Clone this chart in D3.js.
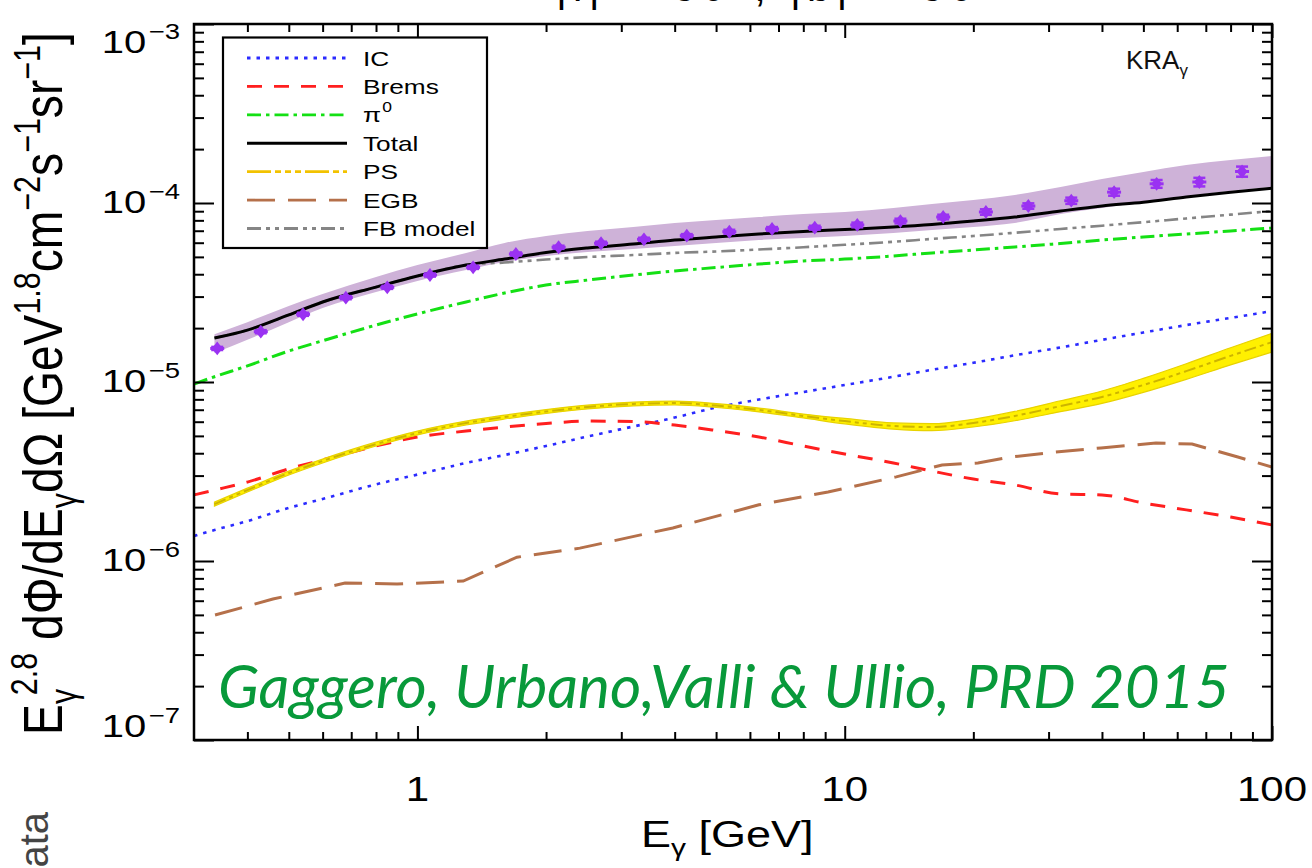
<!DOCTYPE html>
<html><head><meta charset="utf-8">
<script src="https://cdn.jsdelivr.net/npm/d3@7"></script>
<style>body{margin:0;background:#fff;} svg{display:block;}</style>
</head><body>
<script>
// ---------------- data ----------------
const energyGrid = [0.3, 0.335, 0.4, 0.5, 0.6, 0.8, 1, 1.3, 1.6, 2, 2.5, 3.2, 4, 5, 6.3, 8, 10, 13, 16, 20, 25, 32, 40, 50, 63, 80, 100];
const totalModel = [null, 1.76e-5, 1.95e-5, 2.37e-5, 2.80e-5, 3.39e-5, 3.91e-5, 4.50e-5, 4.86e-5, 5.29e-5, 5.61e-5, 5.90e-5, 6.21e-5, 6.46e-5, 6.71e-5, 6.93e-5, 7.11e-5, 7.34e-5, 7.58e-5, 7.93e-5, 8.35e-5, 9.02e-5, 9.62e-5, 1.01e-4, 1.08e-4, 1.15e-4, 1.21e-4];
const fbModel = [null, 1.76e-5, 1.95e-5, 2.37e-5, 2.80e-5, 3.39e-5, 3.91e-5, 4.50e-5, 4.65e-5, 4.83e-5, 4.99e-5, 5.12e-5, 5.26e-5, 5.36e-5, 5.50e-5, 5.66e-5, 5.84e-5, 6.07e-5, 6.30e-5, 6.54e-5, 6.82e-5, 7.16e-5, 7.47e-5, 7.81e-5, 8.20e-5, 8.61e-5, 9.02e-5];
const pionDecay = [9.75e-6, 1.07e-5, 1.23e-5, 1.49e-5, 1.70e-5, 2.08e-5, 2.40e-5, 2.80e-5, 3.14e-5, 3.48e-5, 3.71e-5, 3.96e-5, 4.17e-5, 4.36e-5, 4.56e-5, 4.74e-5, 4.86e-5, 5.06e-5, 5.26e-5, 5.46e-5, 5.68e-5, 5.94e-5, 6.21e-5, 6.46e-5, 6.71e-5, 6.98e-5, 7.25e-5];
const inverseCompton = [1.38e-6, 1.49e-6, 1.67e-6, 1.98e-6, 2.22e-6, 2.68e-6, 3.04e-6, 3.53e-6, 3.91e-6, 4.39e-6, 4.96e-6, 5.64e-6, 6.33e-6, 7.20e-6, 7.98e-6, 8.79e-6, 9.62e-6, 1.07e-5, 1.17e-5, 1.28e-5, 1.41e-5, 1.56e-5, 1.72e-5, 1.89e-5, 2.08e-5, 2.28e-5, 2.49e-5];
const bremsstrahlung = [2.34e-6, 2.49e-6, 2.76e-6, 3.27e-6, 3.67e-6, 4.39e-6, 4.93e-6, 5.32e-6, 5.60e-6, 5.86e-6, 6.05e-6, 6.01e-6, 5.75e-6, 5.36e-6, 4.93e-6, 4.39e-6, 3.96e-6, 3.53e-6, 3.18e-6, 2.87e-6, 2.66e-6, 2.37e-6, 2.34e-6, 2.11e-6, 1.93e-6, 1.76e-6, 1.59e-6];
const pointSources = [null, 2.08e-6, 2.49e-6, 3.10e-6, 3.62e-6, 4.50e-6, 5.19e-6, 5.90e-6, 6.37e-6, 6.84e-6, 7.25e-6, 7.54e-6, 7.63e-6, 7.39e-6, 6.98e-6, 6.46e-6, 6.05e-6, 5.68e-6, 5.60e-6, 5.90e-6, 6.46e-6, 7.34e-6, 8.25e-6, 9.62e-6, 1.15e-5, 1.40e-5, 1.67e-5];
const psSpread = [null, 0.025, 0.025, 0.025, 0.025, 0.025, 0.025, 0.025, 0.025, 0.025, 0.025, 0.025, 0.025, 0.025, 0.025, 0.025, 0.035, 0.04, 0.045, 0.05, 0.06, 0.07, 0.08, 0.09, 0.10, 0.11, 0.12];
const bandUpper = [null, 1.85e-5, 2.16e-5, 2.66e-5, 3.10e-5, 3.86e-5, 4.50e-5, 5.26e-5, 5.98e-5, 6.54e-5, 6.98e-5, 7.34e-5, 7.73e-5, 8.04e-5, 8.35e-5, 8.68e-5, 8.91e-5, 9.38e-5, 9.87e-5, 1.04e-4, 1.11e-4, 1.23e-4, 1.36e-4, 1.49e-4, 1.63e-4, 1.74e-4, 1.83e-4];
const bandLower = [null, 1.45e-5, 1.72e-5, 2.16e-5, 2.59e-5, 3.18e-5, 3.67e-5, 4.22e-5, 4.68e-5, 5.06e-5, 5.32e-5, 5.53e-5, 5.75e-5, 5.98e-5, 6.21e-5, 6.37e-5, 6.54e-5, 6.80e-5, 7.07e-5, 7.34e-5, 7.73e-5, 8.68e-5, 9.38e-5, 1.01e-4, 1.09e-4, 1.17e-4, 1.23e-4];
const egbEnergy = [0.336, 0.459, 0.677, 0.896, 1.28, 1.71, 2.40, 3.96, 6.30, 9.14, 13.2, 16.9, 20.5, 24.4, 31.2, 39.8, 53.5, 65.0, 83.2, 100];
const egbFlux = [4.99e-7, 6.13e-7, 7.53e-7, 7.44e-7, 7.73e-7, 1.05e-6, 1.18e-6, 1.53e-6, 2.06e-6, 2.43e-6, 2.95e-6, 3.44e-6, 3.53e-6, 3.81e-6, 4.06e-6, 4.28e-6, 4.56e-6, 4.50e-6, 3.81e-6, 3.35e-6];
const dataEnergy = [0.34, 0.43, 0.54, 0.68, 0.85, 1.07, 1.35, 1.70, 2.14, 2.69, 3.39, 4.27, 5.37, 6.76, 8.51, 10.7, 13.5, 17.0, 21.4, 26.9, 33.9, 42.7, 53.7, 67.6, 85.1];
const dataFlux = [1.54e-5, 1.91e-5, 2.39e-5, 2.96e-5, 3.38e-5, 3.96e-5, 4.37e-5, 5.19e-5, 5.66e-5, 5.96e-5, 6.27e-5, 6.57e-5, 6.91e-5, 7.16e-5, 7.28e-5, 7.54e-5, 7.93e-5, 8.35e-5, 8.91e-5, 9.62e-5, 1.03e-4, 1.15e-4, 1.28e-4, 1.31e-4, 1.50e-4];
const dataError = [0.02, 0.02, 0.02, 0.02, 0.02, 0.02, 0.02, 0.02, 0.02, 0.02, 0.02, 0.02, 0.025, 0.025, 0.025, 0.03, 0.03, 0.03, 0.035, 0.035, 0.04, 0.045, 0.05, 0.055, 0.065];
const xMajorTicks = [1, 10, 100];
const xMinorTicks = [0.4, 0.5, 0.6, 0.7, 0.8, 0.9, 2, 3, 4, 5, 6, 7, 8, 9, 20, 30, 40, 50, 60, 70, 80, 90];
const xTickLabels = ["1", "10", "100"];
const yMajorTicks = [1e-7, 1e-6, 1e-5, 1e-4, 1e-3];
const yTickExponents = ["−7", "−6", "−5", "−4", "−3"];
const yMinorTicks = [2e-7,3e-7,4e-7,5e-7,6e-7,7e-7,8e-7,9e-7,2e-6,3e-6,4e-6,5e-6,6e-6,7e-6,8e-6,9e-6,2e-5,3e-5,4e-5,5e-5,6e-5,7e-5,8e-5,9e-5,2e-4,3e-4,4e-4,5e-4,6e-4,7e-4,8e-4,9e-4];
const legendLabels = ["IC", "Brems", "π", "Total", "PS", "EGB", "FB model"];

// ---------------- layout ----------------
const W = 1312, H = 868;
const M = {left: 194, right: 1272, top: 24, bottom: 740};
const FONT = "'Liberation Sans', Arial, Helvetica, sans-serif";
const svg = d3.select("body").append("svg").attr("width", W).attr("height", H)
  .style("font-family", FONT);

const x = d3.scaleLog().domain([0.3, 100]).range([M.left, M.right]);
const y = d3.scaleLog().domain([1e-7, 1e-3]).range([M.bottom, M.top]);

svg.append("defs").append("clipPath").attr("id", "plotClip").append("rect")
  .attr("x", M.left).attr("y", M.top).attr("width", M.right - M.left).attr("height", M.bottom - M.top);
const plot = svg.append("g").attr("clip-path", "url(#plotClip)");

const rows = (arr) => energyGrid.map((e, i) => ({e, v: arr[i]})).filter(d => d.v != null);
const line = d3.line().x(d => x(d.e)).y(d => y(d.v)).curve(d3.curveMonotoneX);

// systematic band
const bandRows = energyGrid.map((e, i) => ({e, lo: bandLower[i], hi: bandUpper[i]})).filter(d => d.lo != null);
plot.append("path").datum(bandRows)
  .attr("d", d3.area().x(d => x(d.e)).y0(d => y(d.lo)).y1(d => y(d.hi)).curve(d3.curveMonotoneX))
  .attr("fill", "#ceb2d8");

const styles = {
  IC:    {color: "#2b2bff", dash: "3.5,6", width: 2.6},
  Brems: {color: "#ff1f1f", dash: "15,12", width: 3},
  pi:    {color: "#14e014", dash: "14,5,3.5,5", width: 3},
  Total: {color: "#000000", dash: null, width: 3},
  PS:    {color: "#f2c200", dash: "24,4,6,4,6,4,6,4", width: 2.6},
  EGB:   {color: "#b5704a", dash: "28,13", width: 3},
  FB:    {color: "#858585", dash: "14,5,4,5,4,5", width: 2.6}
};

function drawLine(data, st) {
  plot.append("path").datum(data).attr("d", line).attr("fill", "none")
    .attr("stroke", st.color).attr("stroke-width", st.width)
    .attr("stroke-dasharray", st.dash);
}
drawLine(rows(pionDecay), styles.pi);
drawLine(rows(inverseCompton), styles.IC);
drawLine(rows(bremsstrahlung), styles.Brems);
plot.append("path").datum(egbEnergy.map((e, i) => ({e, v: egbFlux[i]})))
  .attr("d", d3.line().x(d => x(d.e)).y(d => y(d.v))).attr("fill", "none")
  .attr("stroke", styles.EGB.color).attr("stroke-width", styles.EGB.width).attr("stroke-dasharray", styles.EGB.dash);

// point-source band
const psRows = energyGrid.map((e, i) => ({e, v: pointSources[i], s: psSpread[i]})).filter(d => d.v != null);
plot.append("path").datum(psRows)
  .attr("d", d3.area().x(d => x(d.e)).y0(d => y(d.v * (1 - d.s))).y1(d => y(d.v * (1 + d.s))).curve(d3.curveMonotoneX))
  .attr("fill", "#fff000").attr("stroke", "#e8d200").attr("stroke-width", 1.2);
plot.append("path").datum(psRows).attr("d", line).attr("fill", "none")
  .attr("stroke", "#cdb400").attr("stroke-width", 2).attr("stroke-dasharray", "12,4,4,4,4,4");

drawLine(rows(fbModel), styles.FB);
drawLine(rows(totalModel), styles.Total);

// data points
const pts = dataEnergy.map((e, i) => ({e, v: dataFlux[i], err: dataError[i]}));
const pg = plot.append("g").attr("fill", "#9a32f2").attr("stroke", "#9a32f2");
pg.selectAll("line.eb").data(pts).join("line").attr("class", "eb")
  .attr("x1", d => x(d.e)).attr("x2", d => x(d.e))
  .attr("y1", d => y(d.v * (1 + d.err))).attr("y2", d => y(d.v * (1 - d.err))).attr("stroke-width", 2.5);
[1, -1].forEach(sgn => {
  pg.selectAll("line.cap" + (sgn > 0 ? "u" : "d")).data(pts).join("line").attr("class", "cap" + (sgn > 0 ? "u" : "d"))
    .attr("x1", d => x(d.e) - 6).attr("x2", d => x(d.e) + 6)
    .attr("y1", d => y(d.v * (1 + sgn * d.err))).attr("y2", d => y(d.v * (1 + sgn * d.err))).attr("stroke-width", 2.5);
});
pg.selectAll("path.mk").data(pts).join("path").attr("class", "mk")
  .attr("d", d3.symbol(d3.symbolDiamond, 55))
  .attr("transform", d => `translate(${x(d.e)},${y(d.v)}) scale(1.35,1)`).attr("stroke", "none");
pg.selectAll("line.hb").data(pts).join("line").attr("class", "hb")
  .attr("x1", d => x(d.e) - 7).attr("x2", d => x(d.e) + 7)
  .attr("y1", d => y(d.v)).attr("y2", d => y(d.v)).attr("stroke-width", 3);

// ---------------- axes ----------------
function axisG(axis, tr) {
  const g = svg.append("g").attr("transform", tr).call(axis);
  g.select(".domain").remove();
  g.selectAll("text").remove();
  g.selectAll("line").attr("stroke", "#000").attr("stroke-width", 2);
  return g;
}
axisG(d3.axisBottom(x).tickValues(xMinorTicks).tickSize(-8).tickFormat(""), `translate(0,${M.bottom})`);
axisG(d3.axisBottom(x).tickValues(xMajorTicks).tickSize(-14).tickFormat(""), `translate(0,${M.bottom})`);
axisG(d3.axisTop(x).tickValues(xMinorTicks).tickSize(-8).tickFormat(""), `translate(0,${M.top})`);
axisG(d3.axisTop(x).tickValues(xMajorTicks).tickSize(-14).tickFormat(""), `translate(0,${M.top})`);
axisG(d3.axisLeft(y).tickValues(yMinorTicks).tickSize(-10).tickFormat(""), `translate(${M.left},0)`);
axisG(d3.axisLeft(y).tickValues(yMajorTicks).tickSize(-20).tickFormat(""), `translate(${M.left},0)`);
axisG(d3.axisRight(y).tickValues(yMinorTicks).tickSize(-10).tickFormat(""), `translate(${M.right},0)`);
axisG(d3.axisRight(y).tickValues(yMajorTicks).tickSize(-20).tickFormat(""), `translate(${M.right},0)`);

svg.append("rect").attr("x", M.left).attr("y", M.top).attr("width", M.right - M.left).attr("height", M.bottom - M.top)
  .attr("fill", "none").attr("stroke", "#000").attr("stroke-width", 2.5);

function sText(tx, ty, sx, anchor, size, parent) {
  const g = (parent || svg).append("g").attr("transform", `translate(${tx},${ty}) scale(${sx},1)`);
  return g.append("text").attr("text-anchor", anchor).attr("font-size", size).attr("fill", "#000");
}

// x tick labels
xMajorTicks.forEach((v, i) => {
  sText(x(v), 801, 1.2, "middle", 35).text(xTickLabels[i]);
});
// y tick labels
yMajorTicks.forEach((v, i) => {
  let by = y(v) + 10;
  if (i === 4) by = 53;
  if (i === 0) by = 737;
  const t = sText(180, by, 1.25, "end", 32);
  t.append("tspan").text("10");
  t.append("tspan").attr("font-size", 22).attr("dy", -14).attr("dx", 2).text(yTickExponents[i]);
});

// x axis title
{
  const t = sText(641, 847, 1.25, "start", 36);
  t.append("tspan").text("E");
  t.append("tspan").attr("font-size", 24).attr("dy", 9).text("γ");
  t.append("tspan").attr("dy", -9).text(" [GeV]");
}
// y axis title
{
  const g = svg.append("g");
  const t = g.append("text").attr("text-anchor", "middle").attr("font-size", 44).attr("fill", "#000");
  t.append("tspan").text("E");
  t.append("tspan").attr("font-size", 29).attr("dy", 11).text("γ");
  t.append("tspan").attr("font-size", 29).attr("dx", -6).attr("dy", -31).text("2.8");
  t.append("tspan").attr("dy", 20).text(" dΦ/dE");
  t.append("tspan").attr("font-size", 29).attr("dy", 11).text("γ");
  t.append("tspan").attr("dy", -11).text("dΩ [GeV");
  t.append("tspan").attr("font-size", 29).attr("dy", -18).text("1.8");
  t.append("tspan").attr("dy", 18).text("cm");
  t.append("tspan").attr("font-size", 29).attr("dy", -18).text("−2");
  t.append("tspan").attr("dy", 18).text("s");
  t.append("tspan").attr("font-size", 29).attr("dy", -18).text("−1");
  t.append("tspan").attr("dy", 18).text("sr");
  t.append("tspan").attr("font-size", 29).attr("dy", -18).text("−1");
  t.append("tspan").attr("dy", 18).text("]");
  const bb = t.node().getBBox();
  const sLen = 703 / bb.width;
  g.attr("transform", `translate(62,${383.5}) rotate(-90) scale(${sLen},1.25)`);
}

// legend
{
  const lg = svg.append("g");
  lg.append("rect").attr("x", 223).attr("y", 37.5).attr("width", 264).attr("height", 210.5)
    .attr("fill", "#fff").attr("stroke", "#000").attr("stroke-width", 2.2);
  const keys = ["IC", "Brems", "pi", "Total", "PS", "EGB", "FB"];
  const rowY = d3.scaleLinear().domain([0, 6]).range([58, 228.5]);
  keys.forEach((k, i) => {
    const st = styles[k];
    lg.append("line").attr("x1", 247).attr("x2", 347).attr("y1", rowY(i)).attr("y2", rowY(i))
      .attr("stroke", st.color).attr("stroke-width", 2.8).attr("stroke-dasharray", st.dash);
    const t = sText(363, rowY(i) + 7.5, 1.25, "start", 21, lg);
    t.append("tspan").text(legendLabels[i]);
    if (k === "pi") t.append("tspan").attr("font-size", 14).attr("dy", -10).attr("dx", 1).text("0");
  });
}

// KRA label
{
  const t = svg.append("text").attr("x", 1126).attr("y", 69).attr("font-size", 26).attr("fill", "#111");
  t.append("tspan").text("KRA");
  t.append("tspan").attr("font-size", 17).attr("dy", 7).text("γ");
}

// citation
{
  const g = svg.append("g");
  const t = g.append("text").attr("font-family", "Lato, 'Open Sans', sans-serif").attr("font-style", "italic")
    .attr("font-size", 61).attr("fill", "#08993a").text("Gaggero, Urbano,Valli & Ullio, PRD 2015");
  const w = t.node().getBBox().width;
  g.attr("transform", `translate(218,708) scale(${1012 / w},1)`);
}

// cropped title at top edge
svg.append("text").attr("x", 556).attr("y", 0.5).attr("font-size", 42).attr("fill", "#000")
  .attr("textLength", 440).attr("lengthAdjust", "spacing").text("|l| < 60°,   |b| < 60°");

// cropped side label
svg.append("text").attr("transform", "translate(48,812) rotate(-90)").attr("text-anchor", "end")
  .attr("font-size", 40).attr("fill", "#444").text("Data");
</script>
</body></html>
